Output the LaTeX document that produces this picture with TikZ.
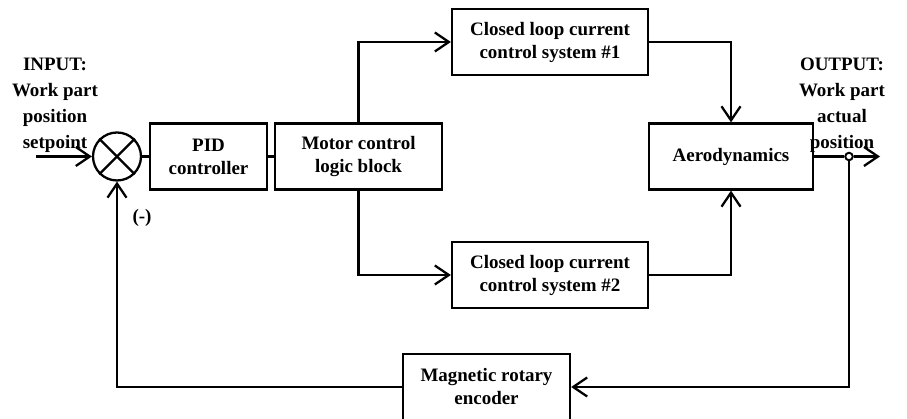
\documentclass[tikz,border=0pt]{standalone}
\usepackage{fontspec}
\setmainfont{Liberation Serif}
\usetikzlibrary{arrows.meta}

\tikzset{
    block/.style={draw, line width=1.3pt, minimum height=1.32cm, align=center},
    sigline/.style={line width=1.3pt},
    sigarrow/.style={sigline, -{Straight Barb[length=0.28cm, width=0.38cm, line width=1.3pt]}}
}

\begin{document}
\begin{tikzpicture}[font=\fontsize{10.8}{13.1}\selectfont\bfseries]
    % Page frame
    \useasboundingbox (0,0) rectangle (18.14,8.38);

    % Summing junction
    \node[draw, circle, line width=1.3pt, minimum size=0.96cm, inner sep=0pt] (sum) at (2.34,5.25) {};
    \draw[sigline] (sum.45) -- (sum.225);
    \draw[sigline] (sum.135) -- (sum.-45);
    \node (minus) at (2.84,4.02) {(-)};

    % Forward path blocks
    \node[block, minimum width=2.34cm] (pid) at (4.17,5.25) {PID\\controller};
    \node[block, minimum width=3.34cm] (motor) at (7.17,5.25) {Motor control\\logic block};
    \node[block, minimum width=3.92cm] (cls1) at (11.0,7.54) {Closed loop current\\control system \#1};
    \node[block, minimum width=3.92cm] (cls2) at (11.0,2.88) {Closed loop current\\control system \#2};
    \node[block, minimum width=3.28cm] (aero) at (14.62,5.25) {Aerodynamics};

    % Feedback block
    \node[block, minimum width=3.34cm] (enc) at (9.73,0.64) {Magnetic rotary\\encoder};

    % Input and output labels
    \node[align=center, font=\fontsize{10.8}{14.8}\selectfont\bfseries] (inlabel) at (1.1,6.27) {INPUT:\\Work part\\position\\setpoint};
    \node[align=center, font=\fontsize{10.8}{14.8}\selectfont\bfseries] (outlabel) at (16.84,6.27) {OUTPUT:\\Work part\\actual\\position};

    % Signal ends and take-off point
    \coordinate (in) at (0.72,5.25);
    \coordinate (out) at (17.6,5.25);
    \node[draw, circle, line width=1.1pt, fill=white, inner sep=0pt, minimum size=0.15cm] (tap) at (16.98,5.25) {};

    % Connections
    \draw[sigarrow] (in) -- (sum.west);
    \draw[sigline] (sum.east) -- (pid.west);
    \draw[sigline] (pid.east) -- (motor.west);
    \draw[sigarrow] (motor.north) |- (cls1.west);
    \draw[sigarrow] (motor.south) |- (cls2.west);
    \draw[sigarrow] (cls1.east) -| (aero.north);
    \draw[sigarrow] (cls2.east) -| (aero.south);
    \draw[sigline] (aero.east) -- (tap.west);
    \draw[sigarrow] (tap.east) -- (out);
    \draw[sigarrow] (tap.south) |- (enc.east);
    \draw[sigarrow] (enc.west) -| (sum.south);
\end{tikzpicture}
\end{document}
